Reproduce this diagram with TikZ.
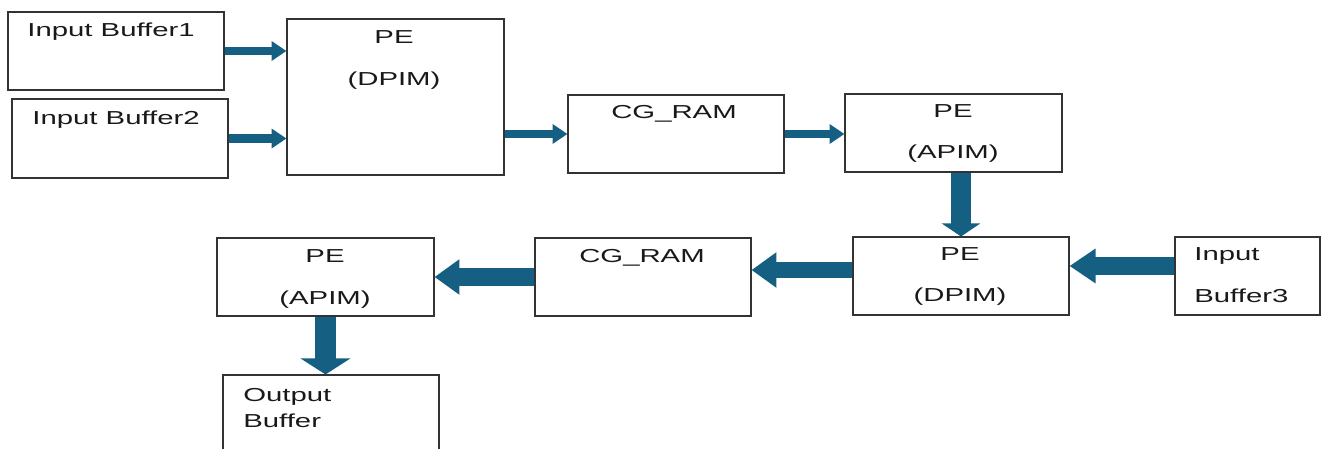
\documentclass[tikz,border=0pt]{standalone}
\usepackage{fontspec}
\setmainfont{Liberation Sans}[FakeStretch=1.56]
\usetikzlibrary{arrows.meta,fit}
\definecolor{accblue}{HTML}{156082}
\tikzset{
  blk/.style={draw=black!80, line width=0.6pt, inner sep=0pt},
  txt/.style={anchor=base, inner sep=0pt, font=\fontsize{10.7}{12}\selectfont, text=black!90},
  ltxt/.style={txt, anchor=base west},
  fat/.style n args={3}{draw=accblue, line width=#1, -{Triangle[length=#3,width=#2]}},
}
\begin{document}
\begin{tikzpicture}[x=0.02cm, y=-0.02cm]
\clip (0,0) rectangle (1323,449);
% top row
\node[blk, fit={(8,12) (224,90)}] (ib1) {};
\node[blk, fit={(12,99) (228,178)}] (ib2) {};
\node[blk, fit={(287,19) (504,175)}] (pe1) {};
\node[blk, fit={(568,95) (784,173)}] (cg1) {};
\node[blk, fit={(845,94) (1062,172)}] (pe2) {};
% bottom row
\node[blk, fit={(853,237) (1069,315)}] (pe3) {};
\node[blk, fit={(1175,237) (1320,315)}] (ib3) {};
\node[blk, fit={(535,238) (751,316)}] (cg2) {};
\node[blk, fit={(217,238) (434,316)}] (pe4) {};
\node[blk, fit={(223,375) (439,470)}] (ob) {};
% texts
\node[ltxt] at (27,37) {Input Buffer1};
\node[ltxt] at (32,125) {Input Buffer2};
\node[txt] at (394,44) {PE};
\node[txt] at (394,86) {(DPIM)};
\node[txt] at (674,119) {CG\_RAM};
\node[txt] at (953,118) {PE};
\node[txt] at (953,159) {(APIM)};
\node[txt] at (960,261) {PE};
\node[txt] at (960,302) {(DPIM)};
\node[ltxt] at (1194,261) {Input};
\node[ltxt] at (1194,303) {Buffer3};
\node[txt] at (642,263) {CG\_RAM};
\node[txt] at (325,263) {PE};
\node[txt] at (325,305) {(APIM)};
\node[ltxt] at (243,401) {Output};
\node[ltxt] at (243,428) {Buffer};
% arrows
\coordinate (a3) at ([yshift=5.7pt]ib3.west);
\coordinate (a4) at ([yshift=3.4pt]pe3.west);
\draw[fat={5.1pt}{10.8pt}{8.5pt}] (ib1.east) -- (ib1.east -| pe1.west);
\draw[fat={5.1pt}{10.8pt}{8.5pt}] (ib2.east) -- (ib2.east -| pe1.west);
\draw[fat={5.1pt}{10.8pt}{8.5pt}] (cg1.west -| pe1.east) -- (cg1.west);
\draw[fat={5.1pt}{10.8pt}{8.5pt}] (cg1.east) -- (cg1.east -| pe2.west);
\draw[fat={11.4pt}{21.6pt}{7.4pt}] (pe3.north |- pe2.south) -- (pe3.north);
\draw[fat={10.2pt}{18.8pt}{14.8pt}] (a3) -- (a3 -| pe3.east);
\draw[fat={9.1pt}{19.3pt}{14.2pt}] (a4) -- (a4 -| cg2.east);
\draw[fat={9.7pt}{19.3pt}{14.2pt}] (cg2.west) -- (cg2.west -| pe4.east);
\draw[fat={12.5pt}{27.9pt}{9.1pt}] (pe4.south) -- (pe4.south |- ob.north);
\end{tikzpicture}
\end{document}
